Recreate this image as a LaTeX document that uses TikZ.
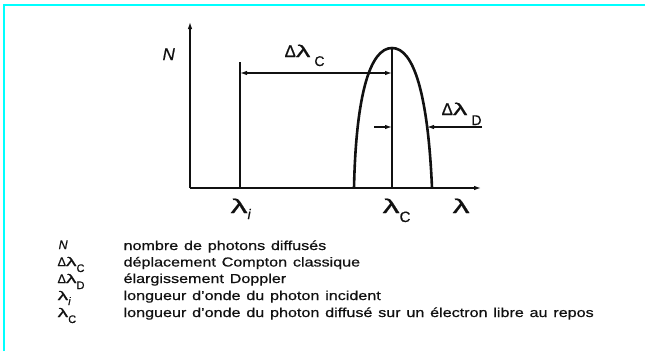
\documentclass[tikz,border=0pt]{standalone}
\usepackage{graphicx}
\usepackage{fontspec}
\setmainfont[FakeBold=0.6]{Liberation Sans}
\newfontfamily\legfont[WordSpace=1.3,FakeStretch=1.24,FakeBold=0.6]{Liberation Sans}
\usetikzlibrary{arrows.meta}
\definecolor{cFrame}{HTML}{00FFFF}
\definecolor{cInk}{HTML}{111111}
% wide lambda and lowered subscript
\newcommand{\lam}{\scalebox{1.7}[1]{λ}}
\newcommand{\dn}[3][12]{\raisebox{-#2pt}{\fontsize{#1}{#1}\selectfont #3}}

\begin{document}
\begin{tikzpicture}[x=1pt,y=-1pt,line width=1.2pt,cInk,
    >={Latex[length=7pt,width=4.5pt]},
    lbl/.style={anchor=base west,inner sep=0pt,font=\fontsize{17}{19}\selectfont},
    axlbl/.style={anchor=base west,inner sep=0pt,font=\fontsize{20}{22}\selectfont},
    legsym/.style={anchor=base west,inner sep=0pt,font=\fontsize{12.5}{13}\selectfont},
    legtxt/.style={anchor=base west,inner sep=0pt,font=\legfont\fontsize{13}{14}\selectfont}]
  \useasboundingbox (0,0) rectangle (645,351);
  % frame
  \draw[cFrame,line width=1.5pt] (4,351) -- (4,5) -- (645,5);

  % axes
  \coordinate (O) at (190,188);
  \coordinate (Ytop) at (190,22);
  \coordinate (Xend) at (481,188);
  \draw[->] (O) -- (Ytop);
  \draw[->] (O) -- (Xend);

  % incident line and peak
  \coordinate (Li) at (240,188);
  \coordinate (LiTop) at (240,62);
  \coordinate (Lc) at (392,188);
  \coordinate (Peak) at (392,48);
  \coordinate (Pl) at (354,188);
  \coordinate (Pr) at (432,188);
  \draw (Li) -- (LiTop);
  \draw (Lc) -- (Peak);
  \draw[line width=2.6pt] (Pl) .. controls (356,95) and (370,48) .. (Peak)
                               .. controls (414,48) and (428,95) .. (Pr);

  % shifts
  \coordinate (Ca) at (240,73);
  \coordinate (Cb) at (392,73);
  \draw[<->] (Ca) -- (Cb);
  \coordinate (Da) at (374,127);
  \coordinate (Db) at (392,127);
  \coordinate (Dc) at (427,127);
  \coordinate (Dd) at (482,127);
  \draw[->] (Da) -- (Db);
  \draw[->] (Dd) -- (Dc);

  % labels
  \node[lbl] (labN) at (162,60) {\itshape N};
  \node[lbl] (labC) at (284,57) {Δ\lam\hspace{4pt}\dn[14]{9}{C}};
  \node[lbl] (labD) at (441,115) {Δ\lam\hspace{4pt}\dn[14]{10}{D}};
  \node[axlbl] (labi) at (230,213) {\lam\dn[14]{6}{\itshape i}};
  \node[axlbl] (labc) at (382,213) {\lam\dn[15]{9}{C}};
  \node[axlbl] (lab) at (452,213) {\lam};

  % legend
  \node[legsym] (sN) at (58,249) {\itshape N};
  \node[legsym] (sC) at (57,266) {Δ\lam\dn[11]{6}{C}};
  \node[legsym] (sD) at (57,283) {Δ\lam\dn[11]{6}{D}};
  \node[legsym] (si) at (57,300) {\lam\dn[11]{5}{\itshape i}};
  \node[legsym] (sc) at (57,317) {\lam\dn[11]{6}{C}};
  \node[legtxt] (tN) at (123,250) {nombre de photons diffusés};
  \node[legtxt] (tC) at (123,266.5) {déplacement Compton classique};
  \node[legtxt] (tD) at (123,283) {élargissement Doppler};
  \node[legtxt] (ti) at (123,300) {longueur d’onde du photon incident};
  \node[legtxt] (tc) at (123,317) {longueur d’onde du photon diffusé sur un électron libre au repos};
\end{tikzpicture}
\end{document}
